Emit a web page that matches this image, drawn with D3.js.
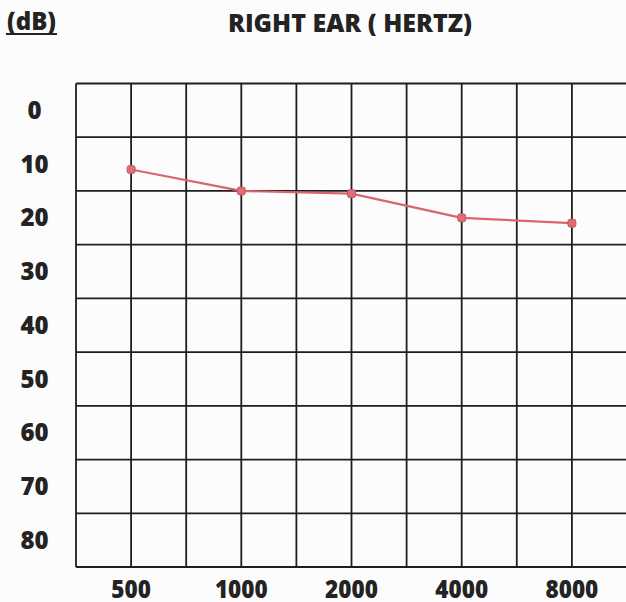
<!DOCTYPE html>
<html>
<head>
<meta charset="utf-8">
<script src="https://cdn.jsdelivr.net/npm/d3@7"></script>
<style>
  html, body { margin: 0; padding: 0; background: #fcfcfc; }
  svg { display: block; }
  text { font-family: "Open Sans", Lato, sans-serif; font-weight: 800; fill: #232323; }
</style>
</head>
<body>
<svg id="chart" width="626" height="602"></svg>
<script>
const frequencies = ["500", "1000", "2000", "4000", "8000"];
const thresholds = [11, 15, 15.5, 20, 21];
const dbTicks = [0, 10, 20, 30, 40, 50, 60, 70, 80];
const title = "RIGHT EAR ( HERTZ)";
const unitLabel = "(dB)";

(function () {
const svg = d3.select("#chart");
const gLeft = 76, gRight = 627, gTop = 83.5, gBottom = 567;

const x = d3.scalePoint().domain(frequencies).range([gLeft, gRight]).padding(0.5);
const y = d3.scaleLinear().domain([-5, 85]).range([gTop, gBottom]);
const step = x.step();

svg.append("rect").attr("width", 626).attr("height", 602).attr("fill", "#fcfcfc");

const grid = svg.append("g").attr("stroke", "#1e1e1e").attr("stroke-width", 1.8);
const vLines = d3.range(0, 11).map(i => gLeft + i * step / 2);
grid.selectAll("line.v").data(vLines).join("line")
  .attr("class", "v")
  .attr("x1", d => d).attr("x2", d => d)
  .attr("y1", gTop).attr("y2", gBottom);
const hVals = d3.range(-5, 90, 10);
grid.selectAll("line.h").data(hVals).join("line")
  .attr("class", "h")
  .attr("x1", gLeft).attr("x2", gRight)
  .attr("y1", d => y(d)).attr("y2", d => y(d));

svg.append("g").selectAll("text").data(dbTicks).join("text")
  .attr("x", 34.5).attr("y", d => y(d)).attr("dy", "0.36em")
  .attr("text-anchor", "middle").attr("font-size", 24)
  .text(d => d);

svg.append("g").selectAll("text").data(frequencies).join("text")
  .attr("x", d => x(d)).attr("y", 589).attr("dy", "0.36em")
  .attr("text-anchor", "middle").attr("font-size", 24)
  .attr("textLength", d => d.length * 13.2).attr("lengthAdjust", "spacingAndGlyphs")
  .text(d => d);

svg.append("text").attr("x", 350).attr("y", 32).attr("text-anchor", "middle")
  .attr("font-size", 24).attr("textLength", 244).attr("lengthAdjust", "spacingAndGlyphs")
  .text(title);
svg.append("text").attr("x", 31.5).attr("y", 30).attr("text-anchor", "middle")
  .attr("font-size", 24).text(unitLabel);
svg.append("line").attr("x1", 6).attr("x2", 57).attr("y1", 34).attr("y2", 34)
  .attr("stroke", "#232323").attr("stroke-width", 2.2);

const data = frequencies.map((f, i) => ({ f, v: thresholds[i] }));
const line = d3.line().x(d => x(d.f)).y(d => y(d.v)).curve(d3.curveLinear);
svg.append("path").datum(data).attr("d", line)
  .attr("fill", "none").attr("stroke", "#d9666e").attr("stroke-width", 2.2)
  .attr("stroke-linecap", "round").attr("stroke-linejoin", "round");
svg.append("g").selectAll("rect").data(data).join("rect")
  .attr("x", d => x(d.f) - 4).attr("y", d => y(d.v) - 4)
  .attr("width", 8).attr("height", 8).attr("rx", 2.5)
  .attr("fill", "#dc6f76").attr("stroke", "#c9555d").attr("stroke-width", 1);
})();
</script>
</body>
</html>
